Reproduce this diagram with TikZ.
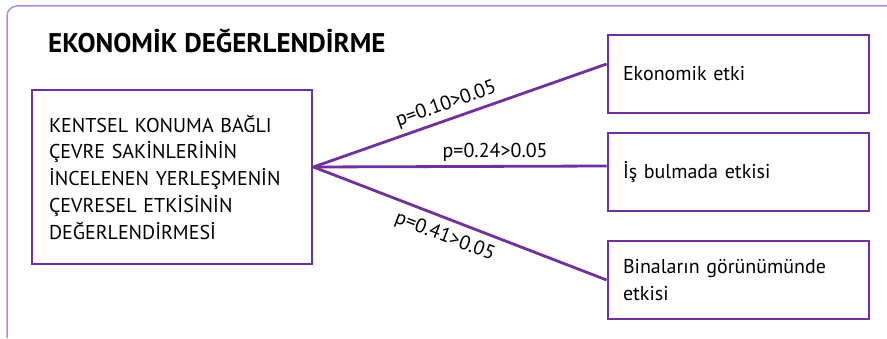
\documentclass[tikz,border=0pt]{standalone}
\usepackage{fontspec}
\setmainfont{PT Sans}
\usepackage{xcolor}
\usetikzlibrary{calc}
\definecolor{mor}{HTML}{7030A0}
\definecolor{acikmor}{HTML}{B48CD0}
\tikzset{
	kutu/.style={
			draw=mor, line width=2.8, rectangle, align=left,
			inner xsep=15, minimum height=78, text width=231,
			font=\fontsize{20}{26.75}\selectfont
		},
	baglanti/.style={draw=mor, line width=2.8},
	pdeger/.style={sloped, font=\fontsize{20}{22}\selectfont}
}

\begin{document}
\begin{tikzpicture}[x=1pt,y=1pt]
        \useasboundingbox (0,0) rectangle (887,338);
        \draw [acikmor, line width=1.5, rounded corners=10] (7,0) |- (887,332);
        \node [anchor=base west, inner sep=0, font=\bfseries\fontsize{27}{30}\selectfont] (baslik) at (48,285) {EKONOMİK DEĞERLENDİRME};
        \node [kutu, text width=246, inner xsep=17, minimum height=174] (kaynak) at (172,161) {KENTSEL KONUMA BAĞLI\\ÇEVRE SAKİNLERİNİN\\İNCELENEN YERLEŞMENİN\\ÇEVRESEL ETKİSİNİN\\DEĞERLENDİRMESİ};
        \node [kutu] (etki1) at (738.5,264) {Ekonomik etki};
        \node [kutu] (etki2) at (738.5,166) {İş bulmada etkisi};
        \node [kutu] (etki3) at (738.5,58) {Binaların görünümünde\\etkisi};
        \coordinate (merkez) at ([yshift=10]kaynak.east);
        \draw [baglanti] (merkez) -- ([yshift=10]etki1.west) node [pdeger, pos=0.47, above=1] {p=0.10>0.05};
        \draw [baglanti] (merkez) -- ([yshift=6]etki2.west) node [pdeger, pos=0.62, above=0] {p=0.24>0.05};
        \draw [baglanti] (merkez) -- (etki3.west) node [pdeger, pos=0.47, below=4] {p=0.41>0.05};
    \end{tikzpicture}
\end{document}
